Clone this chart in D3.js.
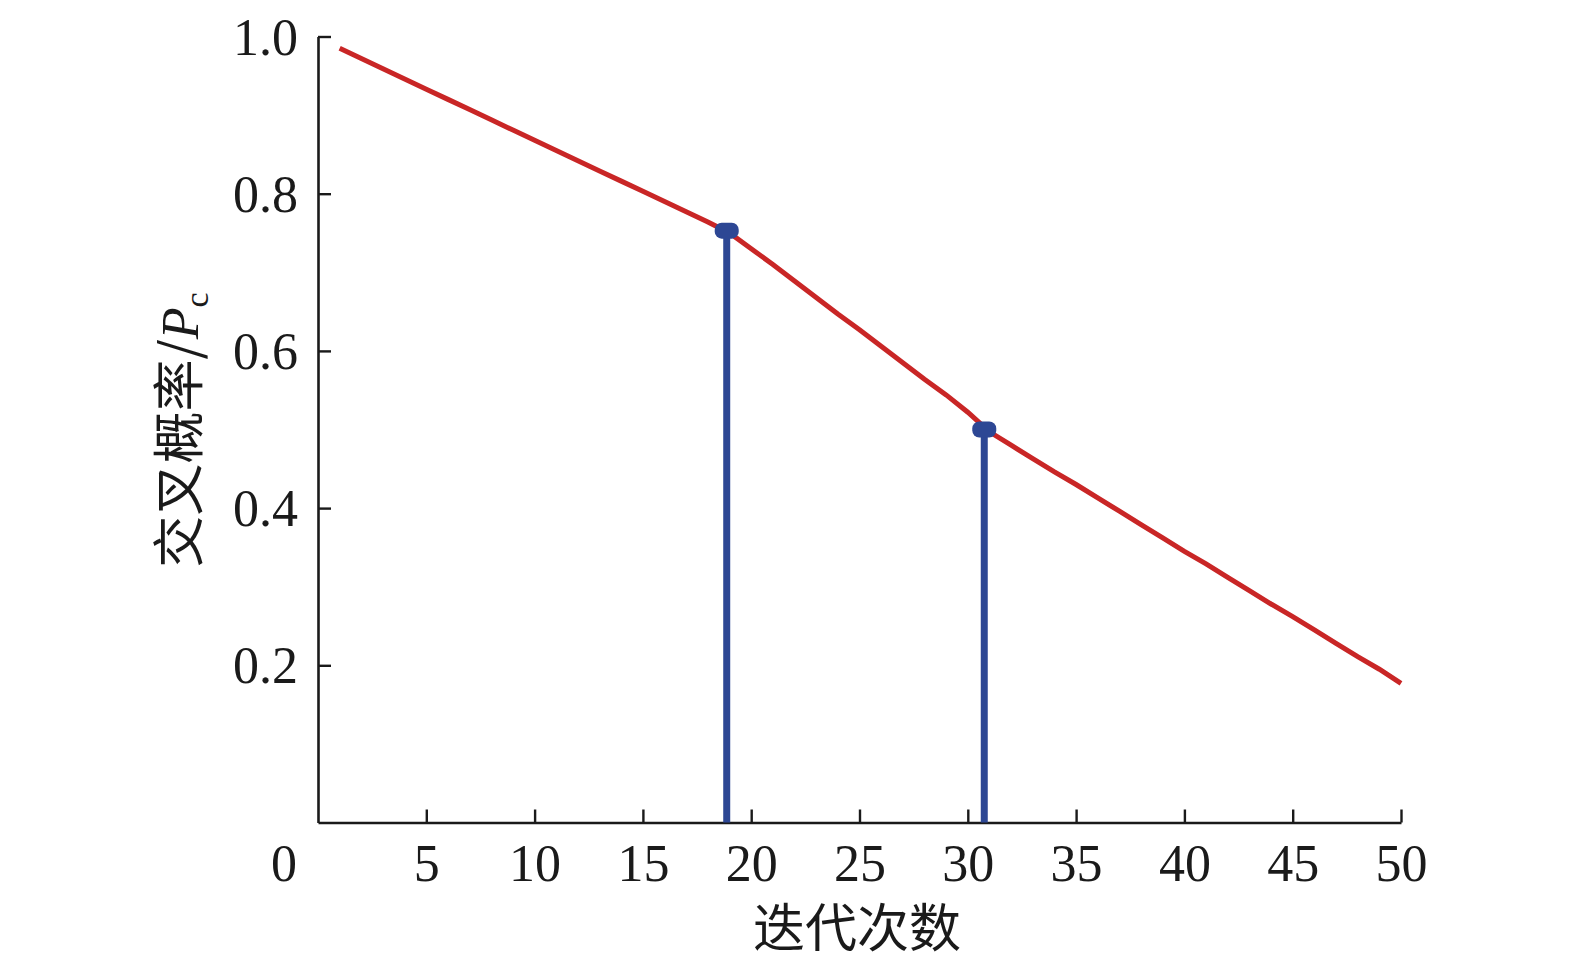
<!DOCTYPE html>
<html>
<head>
<meta charset="utf-8">
<script src="https://cdn.jsdelivr.net/npm/d3@7/dist/d3.min.js"></script>
<style>
  html, body { margin: 0; padding: 0; background: #fff; }
  svg { display: block; }
</style>
</head>
<body>
<svg id="chart" width="1575" height="967"></svg>
<script>
// ---- data ----
const iterations = [1,2,3,4,5,6,7,8,9,10,11,12,13,14,15,16,17,18,19,20,21,22,23,24,25,26,27,28,29,30,31,32,33,34,35,36,37,38,39,40,41,42,43,44,45,46,47,48,49,50];
const crossoverProb = [0.985,0.972,0.959,0.946,0.933,0.920,0.907,0.894,0.881,0.868,
                       0.855,0.842,0.829,0.816,0.803,0.790,0.777,0.764,0.750,0.730,
                       0.710,0.689,0.668,0.647,0.627,0.606,0.585,0.564,0.544,0.522,
                       0.497,0.480,0.463,0.446,0.430,0.413,0.396,0.379,0.362,0.345,
                       0.329,0.312,0.295,0.278,0.262,0.245,0.228,0.211,0.195,0.177];
const markerX = [18.87, 30.76];
const markerY = [0.753, 0.500];
const xTicks = [5,10,15,20,25,30,35,40,45,50];
const yTicks = [0.2,0.4,0.6,0.8,1.0];
const xTitle = "迭代次数";
const yTitle = "交叉概率/";

// ---- layout ----
const svg = d3.select("#chart");
const x = d3.scaleLinear().domain([0, 50]).range([318, 1401]);
const y = d3.scaleLinear().domain([0, 1]).range([822.5, 36.5]);
const serif = "'Liberation Serif','Times New Roman',serif";
const cjk = "'Noto Sans CJK SC','Liberation Serif',serif";
const red = "#c92626";
const blue = "#2d4794";

// axes
const xAxis = d3.axisBottom(x).tickValues(xTicks).tickSizeInner(-13).tickSizeOuter(0).tickPadding(22).tickFormat(d3.format("d"));
const yAxis = d3.axisLeft(y).tickValues(yTicks).tickSizeInner(-13).tickSizeOuter(0).tickPadding(20).tickFormat(d3.format(".1f"));

const gx = svg.append("g").attr("transform", `translate(0,${y(0)})`).call(xAxis);
const gy = svg.append("g").attr("transform", `translate(${x(0)},0)`).call(yAxis);

[gx, gy].forEach(g => {
  g.select(".domain").attr("stroke", "#1a1a1a").attr("stroke-width", 2.6);
  g.selectAll(".tick line").attr("stroke", "#1a1a1a").attr("stroke-width", 2.4);
  g.selectAll(".tick text").attr("fill", "#1a1a1a").style("font-family", serif).style("font-size", "52px");
});
gx.selectAll(".tick text").attr("dy", "0.71em");
gy.selectAll(".tick text").attr("dy", "0.34em");

// origin label
svg.append("text")
  .attr("x", x(0) - 34).attr("y", y(0) + 22)
  .attr("dy", "0.71em")
  .attr("text-anchor", "middle")
  .style("font-family", serif).style("font-size", "52px").attr("fill", "#1a1a1a")
  .text("0");

// red line
const data = iterations.map((d, i) => [d, crossoverProb[i]]);
svg.append("path")
  .datum(data)
  .attr("fill", "none")
  .attr("stroke", red)
  .attr("stroke-width", 5)
  .attr("stroke-linejoin", "miter")
  .attr("d", d3.line().x(d => x(d[0])).y(d => y(d[1])));

// blue stems
const marks = markerX.map((d, i) => [d, markerY[i]]);
svg.selectAll(".stem").data(marks).enter().append("line")
  .attr("x1", d => x(d[0])).attr("x2", d => x(d[0]))
  .attr("y1", y(0)).attr("y2", d => y(d[1]))
  .attr("stroke", blue).attr("stroke-width", 7);
svg.selectAll(".mk").data(marks).enter().append("rect")
  .attr("x", d => x(d[0]) - 12).attr("y", d => y(d[1]) - 8)
  .attr("width", 24).attr("height", 16)
  .attr("rx", 7).attr("ry", 7)
  .attr("fill", blue);

// x title
svg.append("text")
  .attr("x", 857).attr("y", 928)
  .attr("dy", "0.36em")
  .attr("text-anchor", "middle")
  .style("font-family", cjk).style("font-size", "52px").attr("fill", "#1a1a1a")
  .text(xTitle);

// y title
const yt = svg.append("text")
  .attr("transform", "translate(179,430) rotate(-90)")
  .attr("dy", "0.36em")
  .attr("text-anchor", "middle")
  .style("font-size", "52px").attr("fill", "#1a1a1a");
yt.append("tspan").style("font-family", cjk).text(yTitle);
yt.append("tspan").style("font-family", serif).style("font-style", "italic").text("P");
yt.append("tspan").style("font-family", serif).style("font-size", "34px").attr("dy", "10").text("c");
</script>
</body>
</html>
